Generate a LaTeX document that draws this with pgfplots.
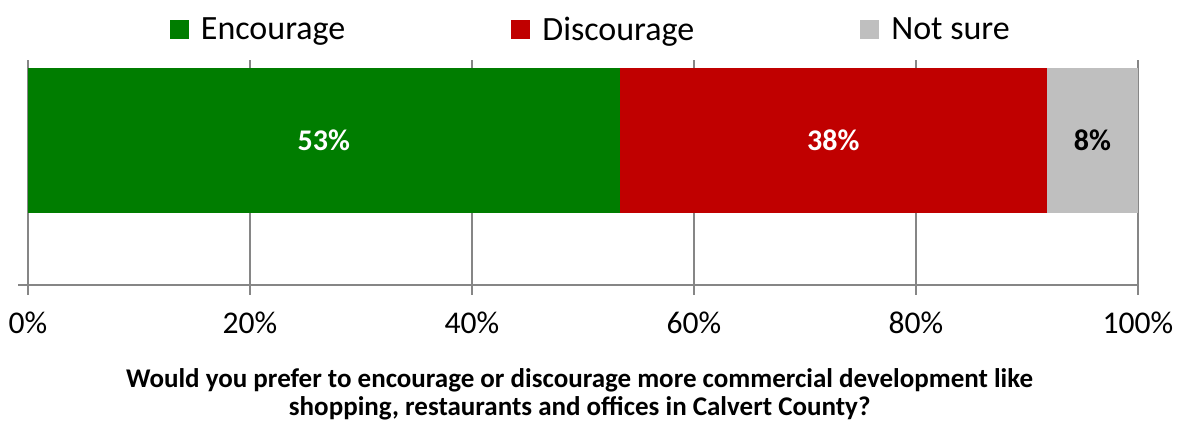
\documentclass[border=0pt]{standalone}
\usepackage{pgfplots}
\pgfplotsset{compat=1.18}
\usepackage{fontspec}
\setmainfont{Carlito}
\definecolor{cgreen}{RGB}{0,125,0}
\definecolor{cred}{RGB}{192,0,0}
\definecolor{cgray}{RGB}{191,191,191}
\definecolor{cgrid}{RGB}{134,134,134}
\begin{document}
\begin{tikzpicture}
\useasboundingbox (0,0) rectangle (590pt,210.5pt);
\pgfplotsset{
  base/.style={
    scale only axis, width=555pt, height=112.5pt,
    at={(14pt,68pt)}, anchor=south west,
    xmin=0, xmax=100, ymin=0, ymax=1,
  }
}
\begin{axis}[base,
  xbar stacked, bar width=72.5pt,
  axis x line*=bottom, axis y line*=left,
  axis line style={cgrid, line width=0.6pt, -},
  xtick={0,20,...,100},
  xticklabel={\pgfmathprintnumber{\tick}\%},
  /pgf/number format/assume math mode=true,
  ytick={0}, yticklabels={},
  tick align=outside, major tick length=5pt,
  tick style={cgrid, line width=0.6pt},
  xmajorgrids, grid style={cgrid, line width=0.6pt},
  ticklabel style={font=\fontsize{15.8}{18}\selectfont, text=black},
  xticklabel style={yshift=-5pt},
  legend style={at={(0.508,1)}, anchor=center, yshift=15pt, draw=none, fill=none,
    legend columns=3, font=\fontsize{17}{20}\selectfont,
    /tikz/every odd column/.append style={column sep=4pt},
    /tikz/every even column/.append style={column sep=81pt}},
  legend image code/.code={\fill[#1] (0pt,-4.75pt) rectangle (9.5pt,4.75pt);},
  xlabel={Would you prefer to encourage or discourage more commercial development like\\shopping, restaurants and offices in Calvert County?},
  xlabel style={at={(axis description cs:0.497,0)}, anchor=north, yshift=-38pt,
    align=center, font=\bfseries\fontsize{13.5}{14}\selectfont},
]
\addplot[fill=cgreen, draw=none] coordinates {(53.3,0.642)};
\addplot[fill=cred, draw=none] coordinates {(38.5,0.642)};
\addplot[fill=cgray, draw=none] coordinates {(8.2,0.642)};
\legend{Encourage, Discourage, Not sure}
\end{axis}
\begin{axis}[base, hide axis, clip=false]
\addplot[only marks, mark=*, mark size=0pt, mark options={draw=none, fill=none},
  nodes near coords, point meta=explicit symbolic,
  every node near coord/.append style={anchor=center, text=white,
    font=\bfseries\fontsize{15}{18}\selectfont}]
  coordinates {(26.65,0.642) [53\%] (72.55,0.642) [38\%]};
\addplot[only marks, mark=*, mark size=0pt, mark options={draw=none, fill=none},
  nodes near coords, point meta=explicit symbolic,
  every node near coord/.append style={anchor=center, text=black,
    font=\bfseries\fontsize{15}{18}\selectfont}]
  coordinates {(95.9,0.642) [8\%]};
\end{axis}
\end{tikzpicture}
\end{document}
